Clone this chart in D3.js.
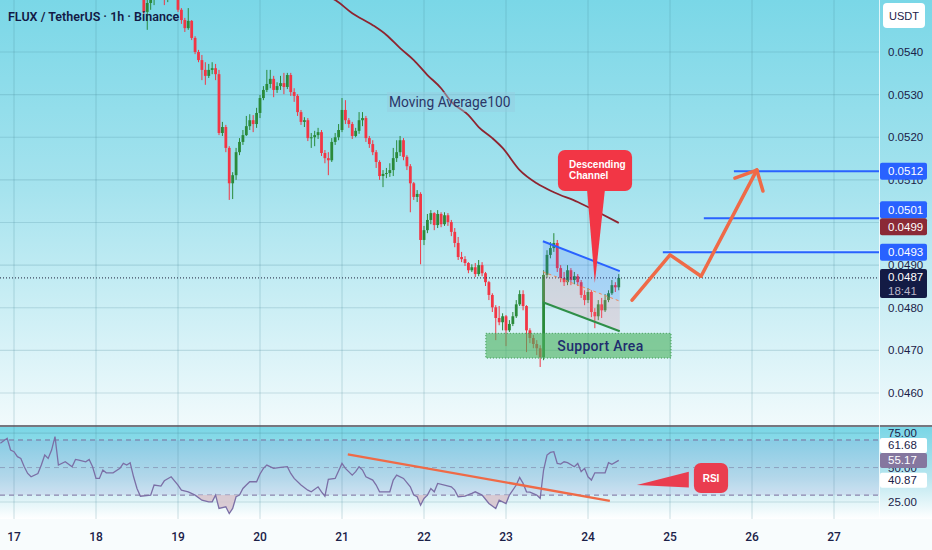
<!DOCTYPE html>
<html>
<head>
<meta charset="utf-8">
<script src="https://cdn.jsdelivr.net/npm/d3@7"></script>
<style>
html, body { margin: 0; padding: 0; background: #fff; }
svg { display: block; font-family: "Liberation Sans", Arial, sans-serif; }
</style>
</head>
<body>
<div id="chart"></div>
<script>
// ---- data (1h candles, hour offsets counted from 17 Jun 00:00) ----
const firstHour = 38;
const opens = [
  0.05541,0.05494,0.05515,0.05527,0.05536,0.05545,0.05541,0.05527,0.05536,0.05550,
  0.05534,0.05499,0.05475,0.05456,0.05473,0.05433,0.05400,0.05381,0.05358,0.05344,
  0.05358,0.05362,0.05348,0.05210,0.05224,0.05175,0.05092,0.05111,0.05165,0.05189,
  0.05205,0.05226,0.05240,0.05231,0.05257,0.05292,0.05311,0.05325,0.05337,0.05311,
  0.05320,0.05327,0.05318,0.05346,0.05306,0.05297,0.05259,0.05236,0.05240,0.05198,
  0.05200,0.05205,0.05212,0.05163,0.05151,0.05146,0.05189,0.05200,0.05217,0.05264,
  0.05240,0.05231,0.05203,0.05215,0.05240,0.05245,0.05198,0.05184,0.05165,0.05142,
  0.05109,0.05114,0.05116,0.05123,0.05151,0.05165,0.05193,0.05154,0.05132,0.05092,
  0.05060,0.05067,0.04959,0.04982,0.05006,0.05022,0.04994,0.05020,0.04996,0.05017,
  0.05001,0.04978,0.04952,0.04919,0.04914,0.04905,0.04888,0.04895,0.04879,0.04900,
  0.04881,0.04860,0.04830,0.04801,0.04776,0.04766,0.04780,0.04747,0.04762,0.04780,
  0.04808,0.04832,0.04804,0.04747,0.04729,0.04715,0.04705,0.04684,0.04877,0.04924,
  0.04940,0.04952,0.04893,0.04870,0.04860,0.04888,0.04865,0.04874,0.04860,0.04830,
  0.04818,0.04837,0.04790,0.04780,0.04808,0.04794,0.04818,0.04834,0.04853,0.04848
];
const highs = [
  0.05545,0.05527,0.05536,0.05545,0.05555,0.05555,0.05545,0.05545,0.05560,0.05555,
  0.05541,0.05503,0.05480,0.05503,0.05475,0.05437,0.05405,0.05393,0.05376,0.05372,
  0.05376,0.05372,0.05358,0.05236,0.05229,0.05179,0.05118,0.05175,0.05198,0.05217,
  0.05250,0.05254,0.05252,0.05269,0.05299,0.05320,0.05358,0.05358,0.05344,0.05329,
  0.05344,0.05351,0.05351,0.05351,0.05315,0.05301,0.05264,0.05247,0.05245,0.05210,
  0.05215,0.05222,0.05217,0.05170,0.05165,0.05198,0.05210,0.05231,0.05292,0.05287,
  0.05245,0.05236,0.05222,0.05259,0.05259,0.05250,0.05203,0.05193,0.05170,0.05146,
  0.05123,0.05128,0.05139,0.05175,0.05193,0.05203,0.05198,0.05158,0.05137,0.05095,
  0.05076,0.05071,0.04992,0.05020,0.05029,0.05024,0.05029,0.05024,0.05024,0.05022,
  0.05006,0.04987,0.04966,0.04931,0.04921,0.04907,0.04902,0.04905,0.04912,0.04907,
  0.04884,0.04863,0.04834,0.04806,0.04804,0.04787,0.04783,0.04771,0.04790,0.04818,
  0.04841,0.04841,0.04806,0.04752,0.04736,0.04724,0.04712,0.04888,0.04935,0.04954,
  0.04975,0.04959,0.04900,0.04884,0.04900,0.04893,0.04884,0.04879,0.04865,0.04841,
  0.04846,0.04841,0.04799,0.04818,0.04823,0.04832,0.04841,0.04865,0.04860,0.04879
];
const lows = [
  0.05489,0.05452,0.05499,0.05510,0.05531,0.05531,0.05510,0.05517,0.05531,0.05522,
  0.05494,0.05466,0.05447,0.05452,0.05428,0.05395,0.05376,0.05334,0.05323,0.05339,
  0.05348,0.05334,0.05205,0.05203,0.05165,0.05053,0.05055,0.05100,0.05158,0.05182,
  0.05203,0.05217,0.05212,0.05222,0.05245,0.05287,0.05306,0.05315,0.05294,0.05304,
  0.05311,0.05301,0.05313,0.05297,0.05283,0.05250,0.05229,0.05224,0.05191,0.05175,
  0.05179,0.05196,0.05156,0.05139,0.05111,0.05142,0.05182,0.05193,0.05212,0.05231,
  0.05222,0.05196,0.05200,0.05208,0.05226,0.05189,0.05175,0.05158,0.05128,0.05100,
  0.05083,0.05104,0.05107,0.05109,0.05142,0.05156,0.05146,0.05123,0.05024,0.05053,
  0.05048,0.04902,0.04947,0.04975,0.04996,0.04982,0.04987,0.04989,0.04992,0.04992,
  0.04968,0.04942,0.04912,0.04907,0.04898,0.04881,0.04884,0.04872,0.04874,0.04874,
  0.04851,0.04818,0.04790,0.04724,0.04759,0.04747,0.04710,0.04743,0.04757,0.04776,
  0.04804,0.04794,0.04696,0.04717,0.04705,0.04689,0.04661,0.04677,0.04870,0.04916,
  0.04931,0.04884,0.04860,0.04851,0.04853,0.04853,0.04855,0.04851,0.04823,0.04806,
  0.04811,0.04778,0.04752,0.04771,0.04776,0.04790,0.04813,0.04830,0.04837,0.04841
];
const closes = [
  0.05494,0.05515,0.05527,0.05536,0.05545,0.05541,0.05527,0.05536,0.05550,0.05534,
  0.05499,0.05475,0.05456,0.05473,0.05433,0.05400,0.05381,0.05358,0.05344,0.05358,
  0.05362,0.05348,0.05210,0.05224,0.05175,0.05092,0.05111,0.05165,0.05189,0.05205,
  0.05226,0.05240,0.05231,0.05257,0.05292,0.05311,0.05325,0.05337,0.05311,0.05320,
  0.05327,0.05318,0.05346,0.05306,0.05297,0.05259,0.05236,0.05240,0.05198,0.05200,
  0.05205,0.05212,0.05163,0.05151,0.05146,0.05189,0.05200,0.05217,0.05264,0.05240,
  0.05231,0.05203,0.05215,0.05240,0.05245,0.05198,0.05184,0.05165,0.05142,0.05109,
  0.05114,0.05116,0.05123,0.05151,0.05165,0.05193,0.05154,0.05132,0.05092,0.05060,
  0.05067,0.04959,0.04982,0.05006,0.05022,0.04994,0.05020,0.04996,0.05017,0.05001,
  0.04978,0.04952,0.04919,0.04914,0.04905,0.04888,0.04895,0.04879,0.04900,0.04881,
  0.04860,0.04830,0.04801,0.04776,0.04766,0.04780,0.04747,0.04762,0.04780,0.04808,
  0.04832,0.04804,0.04747,0.04729,0.04715,0.04705,0.04684,0.04877,0.04924,0.04940,
  0.04952,0.04893,0.04870,0.04860,0.04888,0.04865,0.04874,0.04860,0.04830,0.04818,
  0.04837,0.04790,0.04780,0.04808,0.04794,0.04818,0.04834,0.04853,0.04848,0.04870
];

// moving average 100 (hour offset, value)
const maHours  = [90, 94, 99, 105, 109, 113, 117, 121, 125, 128, 133, 136, 140, 143, 148, 153, 158, 165, 171, 177];
const maValues = [0.05535, 0.05522, 0.05491, 0.05463, 0.05440, 0.05409, 0.05381, 0.05346, 0.05315, 0.05283,
                  0.05252, 0.05224, 0.05198, 0.05175, 0.05123, 0.05092, 0.05071, 0.05048, 0.05024, 0.04999];

// RSI 14
const rsiHours = [-4,-2,-1,0,1,2,3,4,5,7,8,9,10,11,12,13,15,17,18,19,21,22,23,24,25,26,27,29,31,32,33,34,35,36,37,40,
  41,43,44,46,48,49,51,53,55,57,58,59,60,62,63,64,65,66,67,68,69,71,72,73,74,76,78,80,81,82,84,86,87,89,90,91,92,94,
  96,97,99,100,101,102,103,105,106,107,110,111,112,114,116,117,118,119,120,121,122,123,124,126,128,129,130,132,134,
  135,137,139,141,142,144,145,147,148,149,150,151,153,154,155,156,157,158,159,160,161,162,164,165,166,167,168,169,
  170,171,173,174,175,177];
const rsiValues = [67.6,71.2,62.7,61.5,57.9,56.6,50.6,45.7,43.3,45.7,51.8,59.1,56.6,62.7,72.4,51.8,54.2,50.6,55.9,55.4,
  54.2,55.9,50.6,42.1,42.1,48.2,46.2,46.2,49.4,53.0,51.8,53.5,43.3,34.8,29.2,30.0,
  37.3,36.5,40.4,43.3,37.3,33.6,32.4,30.0,26.3,25.1,25.1,30.0,20.3,21.5,16.6,20.3,28.8,30.0,34.8,37.3,39.7,39.7,45.3,
  49.4,51.8,49.4,50.1,50.6,45.7,42.1,37.3,33.6,32.4,36.0,32.4,29.2,41.4,42.1,
  53.0,49.4,44.5,47.0,50.6,48.2,43.3,40.9,37.3,32.4,32.4,40.9,44.5,42.1,36.0,30.0,28.8,22.7,27.6,30.0,34.8,32.4,38.5,
  37.3,36.0,33.6,28.8,29.2,31.2,
  32.4,30.0,23.9,20.3,26.3,23.9,30.0,37.3,42.8,38.5,32.4,32.2,30.0,27.6,48.2,59.1,61.0,61.5,53.0,52.5,54.2,53.5,50.6,
  53.0,47.0,49.4,43.3,40.9,
  46.2,46.2,46.2,53.5,52.3,55.2];

// axes
const dayLabels = [17, 18, 19, 20, 21, 22, 23, 24, 25, 26, 27];
const priceTicks = [0.0460, 0.0470, 0.0480, 0.0490, 0.0500, 0.0510, 0.0520, 0.0530, 0.0540];
const rsiTicks = [25, 50, 75];
const rsiLevels = [70, 50, 30];
const lastPrice = 0.0487;
const countdown = "18:41";

// price tags on the right scale
const targetLevels = [0.0512, 0.0501, 0.0493];
const targetStart  = [210.7, 201.9, 189.9];
const maLast = 0.0499;
const rsiTags = [61.68, 55.17, 40.87];

// drawings (hour offset, price / rsi)
const channelTop    = [[154.8, 0.04956], [177.3, 0.04886]];
const channelBottom = [[154.8, 0.04813], [177.3, 0.04745]];
const supportHours  = [138.1, 192.3];
const supportPrices = [0.04740, 0.04682];
const projection    = [[180.9, 0.04818], [192.0, 0.04924], [201.1, 0.04874], [217.4, 0.05123]];
const arrowWings    = [[211.0, 0.05104], [219.2, 0.05074]];
const calloutHours  = [159.2, 180.9];
const calloutPrices = [0.05170, 0.05074];
const calloutTip    = [170.0, 0.04858];
const rsiTrend      = [[97.7, 59.6], [174.4, 25.8]];
const rsiBoxHours   = [199.0, 209.0];
const rsiBoxValues  = [53.3, 31.5];
const rsiTip        = [[182.3, 37.3], [197.5, 46.9], [197.5, 35.6]];

// ---- drawing ----
const W = 932, H = 550, plotR = 879;
const mainTop = 0, mainBot = 425, rsiTop = 427, rsiBot = 519;

const hourDate = h => new Date(2024, 5, 17, 0, Math.round(h * 60));
const x = d3.scaleTime().domain([new Date(2024, 5, 17), new Date(2024, 5, 27)]).range([14, 834]);
const xh = h => x(hourDate(h));
const y = d3.scaleLinear().domain([0.0460, 0.0540]).range([393, 52]);
const yr = d3.scaleLinear().domain([25, 75]).range([502, 433.1]);

const svg = d3.select('#chart').append('svg').attr('width', W).attr('height', H);
const defs = svg.append('defs');

function vGrad(id, stops) {
  const g = defs.append('linearGradient').attr('id', id).attr('x1', 0).attr('x2', 0).attr('y1', 0).attr('y2', 1);
  stops.forEach(s => g.append('stop').attr('offset', s[0]).attr('stop-color', s[1]));
}
vGrad('mainBg', [[0, '#7ad7e7'], [0.45, '#a6e3ee'], [1, '#f1fafc']]);
vGrad('rsiBg', [[0, '#79d6e6'], [0.55, '#b9e6ef'], [1, '#ffffff']]);

defs.append('clipPath').attr('id', 'mainClip').append('rect')
  .attr('x', 0).attr('y', mainTop).attr('width', plotR).attr('height', mainBot - mainTop);
defs.append('clipPath').attr('id', 'rsiClip').append('rect')
  .attr('x', 0).attr('y', rsiTop).attr('width', plotR).attr('height', rsiBot - rsiTop);
defs.append('clipPath').attr('id', 'below30').append('rect')
  .attr('x', 0).attr('y', yr(30)).attr('width', plotR).attr('height', rsiBot - yr(30));
defs.append('clipPath').attr('id', 'above70').append('rect')
  .attr('x', 0).attr('y', rsiTop).attr('width', plotR).attr('height', yr(70) - rsiTop);

// backgrounds
svg.append('rect').attr('width', W).attr('height', mainBot).attr('fill', 'url(#mainBg)');
svg.append('rect').attr('y', rsiTop).attr('width', W).attr('height', rsiBot - rsiTop).attr('fill', 'url(#rsiBg)');
svg.append('rect').attr('y', rsiBot).attr('width', W).attr('height', H - rsiBot).attr('fill', '#f8fcfd');

const gridColor = 'rgba(70,130,150,0.22)';
const dayDates = dayLabels.map(d => new Date(2024, 5, d));

// vertical grid (both panes)
svg.append('g').selectAll('line').data(dayDates).join('line')
  .attr('x1', d => x(d)).attr('x2', d => x(d)).attr('y1', 0).attr('y2', rsiBot)
  .attr('stroke', gridColor).attr('stroke-width', 1.2);

// horizontal grid main
svg.append('g').selectAll('line').data(priceTicks).join('line')
  .attr('x1', 0).attr('x2', plotR).attr('y1', d => y(d)).attr('y2', d => y(d))
  .attr('stroke', gridColor).attr('stroke-width', 1.2);

// rsi grid + band
svg.append('g').selectAll('line').data([75, 25]).join('line')
  .attr('x1', 0).attr('x2', plotR).attr('y1', d => yr(d)).attr('y2', d => yr(d))
  .attr('stroke', gridColor).attr('stroke-width', 1.2);
svg.append('rect').attr('x', 0).attr('width', plotR)
  .attr('y', yr(70)).attr('height', yr(30) - yr(70))
  .attr('fill', 'rgba(126,87,194,0.10)');
svg.append('g').selectAll('line').data(rsiLevels).join('line')
  .attr('x1', 0).attr('x2', plotR).attr('y1', d => yr(d)).attr('y2', d => yr(d))
  .attr('stroke', d => d === 50 ? 'rgba(120,123,160,0.55)' : '#7a6d9c')
  .attr('stroke-width', 1).attr('stroke-dasharray', '5,4');

// separators
svg.append('line').attr('x1', 0).attr('x2', W).attr('y1', 426).attr('y2', 426)
  .attr('stroke', '#4a4a55').attr('stroke-width', 1.6);
svg.append('line').attr('x1', plotR + 0.5).attr('x2', plotR + 0.5).attr('y1', 0).attr('y2', rsiBot)
  .attr('stroke', 'rgba(255,255,255,0.75)').attr('stroke-width', 1);

// ---- main pane ----
const main = svg.append('g').attr('clip-path', 'url(#mainClip)');

// moving average 100
const maPts = maHours.map((h, i) => [h, maValues[i]]);
main.append('path').datum(maPts)
  .attr('d', d3.line().x(d => xh(d[0])).y(d => y(d[1])).curve(d3.curveMonotoneX))
  .attr('fill', 'none').attr('stroke', '#8e2430').attr('stroke-width', 1.8);

// candles
const candles = closes.map((c, i) => ({ h: firstHour + i, o: opens[i], hi: highs[i], lo: lows[i], c }));
const upCol = '#2a8a3a', downCol = '#f23645';
const cg = main.append('g');
cg.selectAll('line').data(candles).join('line')
  .attr('x1', d => xh(d.h)).attr('x2', d => xh(d.h))
  .attr('y1', d => y(Math.max(d.hi, d.o, d.c))).attr('y2', d => y(Math.min(d.lo, d.o, d.c)))
  .attr('stroke', d => d.c >= d.o ? upCol : downCol).attr('stroke-width', 1);
cg.selectAll('rect').data(candles).join('rect')
  .attr('x', d => xh(d.h) - 1.4).attr('width', 2.8)
  .attr('y', d => y(Math.max(d.o, d.c)))
  .attr('height', d => Math.max(1, Math.abs(y(d.o) - y(d.c))))
  .attr('fill', d => d.c >= d.o ? upCol : downCol);

// last price dotted line
main.append('line').attr('x1', 0).attr('x2', plotR).attr('y1', y(lastPrice)).attr('y2', y(lastPrice))
  .attr('stroke', '#1a1f3a').attr('stroke-width', 1).attr('stroke-dasharray', '1,2');

// descending channel
const midStart = (channelTop[0][1] + channelBottom[0][1]) / 2;
const midEnd = (channelTop[1][1] + channelBottom[1][1]) / 2;
const chX0 = xh(channelTop[0][0]), chX1 = xh(channelTop[1][0]);
main.append('path')
  .attr('d', `M${chX0},${y(channelTop[0][1])}L${chX1},${y(channelTop[1][1])}L${chX1},${y(midEnd)}L${chX0},${y(midStart)}Z`)
  .attr('fill', 'rgba(41,98,255,0.18)');
main.append('path')
  .attr('d', `M${chX0},${y(midStart)}L${chX1},${y(midEnd)}L${chX1},${y(channelBottom[1][1])}L${chX0},${y(channelBottom[0][1])}Z`)
  .attr('fill', 'rgba(242,130,150,0.22)');
main.append('line').attr('x1', chX0).attr('x2', chX1).attr('y1', y(midStart)).attr('y2', y(midEnd))
  .attr('stroke', '#f08a5d').attr('stroke-width', 1).attr('stroke-dasharray', '3,3');
main.append('line').attr('x1', chX0).attr('x2', chX1)
  .attr('y1', y(channelTop[0][1])).attr('y2', y(channelTop[1][1]))
  .attr('stroke', '#2962ff').attr('stroke-width', 2);
main.append('line').attr('x1', chX0).attr('x2', chX1)
  .attr('y1', y(channelBottom[0][1])).attr('y2', y(channelBottom[1][1]))
  .attr('stroke', '#2f8f48').attr('stroke-width', 2);

// support area
const sx0 = xh(supportHours[0]), sx1 = xh(supportHours[1]);
const sy0 = y(supportPrices[0]), sy1 = y(supportPrices[1]);
main.append('rect').attr('x', sx0).attr('y', sy0).attr('width', sx1 - sx0).attr('height', sy1 - sy0)
  .attr('fill', 'rgba(76,178,96,0.62)').attr('stroke', '#3a9a4f').attr('stroke-width', 1)
  .attr('stroke-dasharray', '1,2');
main.append('text').attr('x', (sx0 + sx1) / 2 + 22).attr('y', (sy0 + sy1) / 2 + 5)
  .attr('text-anchor', 'middle').attr('font-size', 14).attr('font-weight', 500)
  .attr('font-family', 'Roboto, sans-serif').attr('letter-spacing', 0.3)
  .attr('fill', '#1f2d6e').text('Support Area');

// target levels
targetLevels.forEach((p, i) => {
  if (i === 2) {
    main.append('line').attr('x1', xh(targetStart[i])).attr('x2', plotR)
      .attr('y1', y(p) - 1.5).attr('y2', y(p) - 1.5)
      .attr('stroke', 'rgba(200,235,255,0.9)').attr('stroke-width', 1.5);
  }
  main.append('line').attr('x1', xh(targetStart[i])).attr('x2', plotR)
    .attr('y1', y(p)).attr('y2', y(p))
    .attr('stroke', '#2962ff').attr('stroke-width', 2);
});

// projected path
const orange = '#ef6a47';
main.append('path').datum(projection)
  .attr('d', d3.line().x(d => xh(d[0])).y(d => y(d[1])))
  .attr('fill', 'none').attr('stroke', orange).attr('stroke-width', 3.5)
  .attr('stroke-linejoin', 'round').attr('stroke-linecap', 'round');
const tip = projection[projection.length - 1];
arrowWings.forEach(w => {
  main.append('line').attr('x1', xh(tip[0])).attr('y1', y(tip[1])).attr('x2', xh(w[0])).attr('y2', y(w[1]))
    .attr('stroke', orange).attr('stroke-width', 3.5).attr('stroke-linecap', 'round');
});

// descending channel callout
const red = '#f23645';
const cx0 = xh(calloutHours[0]), cx1 = xh(calloutHours[1]);
const cy0 = y(calloutPrices[0]), cy1 = y(calloutPrices[1]);
const cMid = (cx0 + cx1) / 2;
main.append('path')
  .attr('d', `M${cMid - 8},${cy1 - 2}L${cMid + 10},${cy1 - 2}L${xh(calloutTip[0])},${y(calloutTip[1])}Z`)
  .attr('fill', red);
main.append('rect').attr('x', cx0).attr('y', cy0).attr('width', cx1 - cx0).attr('height', cy1 - cy0)
  .attr('rx', 7).attr('fill', red);
main.append('text').attr('x', cx0 + 11).attr('y', cy0 + 18)
  .attr('font-size', 10).attr('font-weight', 'bold').attr('fill', '#fff')
  .selectAll('tspan').data(['Descending', 'Channel']).join('tspan')
  .attr('x', cx0 + 11).attr('dy', (d, i) => i === 0 ? 0 : 11).text(d => d);

// moving average label
const maLabel = main.append('g');
maLabel.append('rect').attr('x', 387).attr('y', 92).attr('width', 128).attr('height', 20)
  .attr('fill', 'rgba(150,205,225,0.45)');
maLabel.append('text').attr('x', 389).attr('y', 107).attr('font-size', 13.8)
  .attr('font-family', 'Roboto, sans-serif').attr('fill', '#2b3668').text('Moving Average100');

// title
svg.append('text').attr('x', 8).attr('y', 21).attr('font-size', 12.5).attr('font-weight', 600)
  .attr('font-family', 'Roboto, sans-serif').attr('fill', '#131a45')
  .text('FLUX / TetherUS · 1h · Binance');

// ---- RSI pane ----
const rsi = svg.append('g').attr('clip-path', 'url(#rsiClip)');
const rsiPts = rsiHours.map((h, i) => [h, rsiValues[i]]);
const rsiBelow = rsi.append('g').attr('clip-path', 'url(#below30)');
rsiBelow.append('path').datum(rsiPts)
  .attr('d', d3.area().x(d => xh(d[0])).y0(yr(30)).y1(d => yr(d[1])))
  .attr('fill', 'rgba(215,195,205,0.85)');
const rsiAbove = rsi.append('g').attr('clip-path', 'url(#above70)');
rsiAbove.append('path').datum(rsiPts)
  .attr('d', d3.area().x(d => xh(d[0])).y0(yr(70)).y1(d => yr(d[1])))
  .attr('fill', 'rgba(120,200,160,0.5)');
rsi.append('path').datum(rsiPts)
  .attr('d', d3.line().x(d => xh(d[0])).y(d => yr(d[1])))
  .attr('fill', 'none').attr('stroke', '#7b6fa6').attr('stroke-width', 1.3);
rsi.append('line')
  .attr('x1', xh(rsiTrend[0][0])).attr('y1', yr(rsiTrend[0][1]))
  .attr('x2', xh(rsiTrend[1][0])).attr('y2', yr(rsiTrend[1][1]))
  .attr('stroke', orange).attr('stroke-width', 2.4);
rsi.append('path')
  .attr('d', d3.line()(rsiTip.map(d => [xh(d[0]), yr(d[1])])) + 'Z')
  .attr('fill', '#ea3d4f');
const rbx0 = xh(rsiBoxHours[0]), rbx1 = xh(rsiBoxHours[1]);
const rby0 = yr(rsiBoxValues[0]), rby1 = yr(rsiBoxValues[1]);
rsi.append('rect').attr('x', rbx0).attr('y', rby0).attr('width', rbx1 - rbx0).attr('height', rby1 - rby0)
  .attr('rx', 7).attr('fill', '#ea3d4f');
rsi.append('text').attr('x', (rbx0 + rbx1) / 2).attr('y', (rby0 + rby1) / 2 + 4)
  .attr('text-anchor', 'middle').attr('font-size', 10).attr('font-weight', 'bold')
  .attr('fill', '#fff').text('RSI');

// ---- axes ----
const axisCol = '#1b2148';
const fmt4 = d3.format('.4f');

// price tags (stack overlapping ones upward)
const tagH = 17;
const priceTags = [
  { p: targetLevels[0], fill: '#2962ff' },
  { p: targetLevels[1], fill: '#2962ff' },
  { p: maLast, fill: '#8b2a36' },
  { p: targetLevels[2], fill: '#2962ff' }
].map(t => ({ ...t, cy: y(t.p) }));
for (let i = priceTags.length - 2; i >= 0; i--) {
  const below = priceTags[i + 1];
  if (below.cy - priceTags[i].cy < tagH && below.p !== targetLevels[2]) priceTags[i].cy = below.cy - tagH;
}

// tick labels that are fully covered by a tag are not drawn
const covered = d => priceTags.some(t => Math.abs(t.cy - y(d)) < 6);
svg.append('g').selectAll('text').data(priceTicks.filter(d => !covered(d))).join('text')
  .attr('x', 888).attr('y', d => y(d) + 4).attr('font-size', 11.5).attr('fill', axisCol)
  .text(d => fmt4(d));

svg.append('g').selectAll('text').data(rsiTicks).join('text')
  .attr('x', 888).attr('y', d => yr(d) + 4).attr('font-size', 11.5).attr('fill', axisCol)
  .text(d => d3.format('.2f')(d));

// x axis labels
svg.append('g').selectAll('text').data(dayDates).join('text')
  .attr('x', d => x(d)).attr('y', 541).attr('text-anchor', 'middle')
  .attr('font-size', 12).attr('font-weight', 500).attr('font-family', 'Roboto, sans-serif')
  .attr('fill', axisCol).text(d => d3.timeFormat('%-d')(d));

function tag(cy, h, fill, textCol, lines) {
  const g = svg.append('g');
  g.append('rect').attr('x', 880).attr('y', cy - h / 2).attr('width', 47).attr('height', h)
    .attr('rx', 2).attr('fill', fill);
  lines.forEach((t, i) => {
    g.append('text').attr('x', 888).attr('y', cy - h / 2 + 12.5 + i * 14)
      .attr('font-size', 11.5).attr('fill', i === 0 ? textCol : '#b9b6c8').text(t);
  });
}
priceTags.forEach(t => tag(t.cy, tagH, t.fill, '#fff', [fmt4(t.p)]));
tag(y(lastPrice) + 5.5, 29, '#131b45', '#fff', [fmt4(lastPrice), countdown]);

// rsi tags
const rsiTagFill = ['#ffffff', '#85779f', '#ffffff'];
const rsiTagCy = rsiTags.map(v => yr(v));
rsiTagCy[0] = Math.min(rsiTagCy[0], rsiTagCy[1] - 15);
rsiTags.forEach((v, i) => {
  const g = svg.append('g');
  g.append('rect').attr('x', 880).attr('y', rsiTagCy[i] - 7.5).attr('width', 47).attr('height', 15)
    .attr('rx', 2).attr('fill', rsiTagFill[i]);
  g.append('text').attr('x', 888).attr('y', rsiTagCy[i] + 4).attr('font-size', 11.5)
    .attr('fill', i === 1 ? '#fff' : axisCol).text(d3.format('.2f')(v));
});

// currency box
svg.append('rect').attr('x', 883).attr('y', 3).attr('width', 42).attr('height', 25).attr('rx', 4)
  .attr('fill', '#fff');
svg.append('text').attr('x', 904).attr('y', 20).attr('text-anchor', 'middle').attr('font-size', 11)
  .attr('fill', axisCol).text('USDT');
</script>
</body>
</html>
